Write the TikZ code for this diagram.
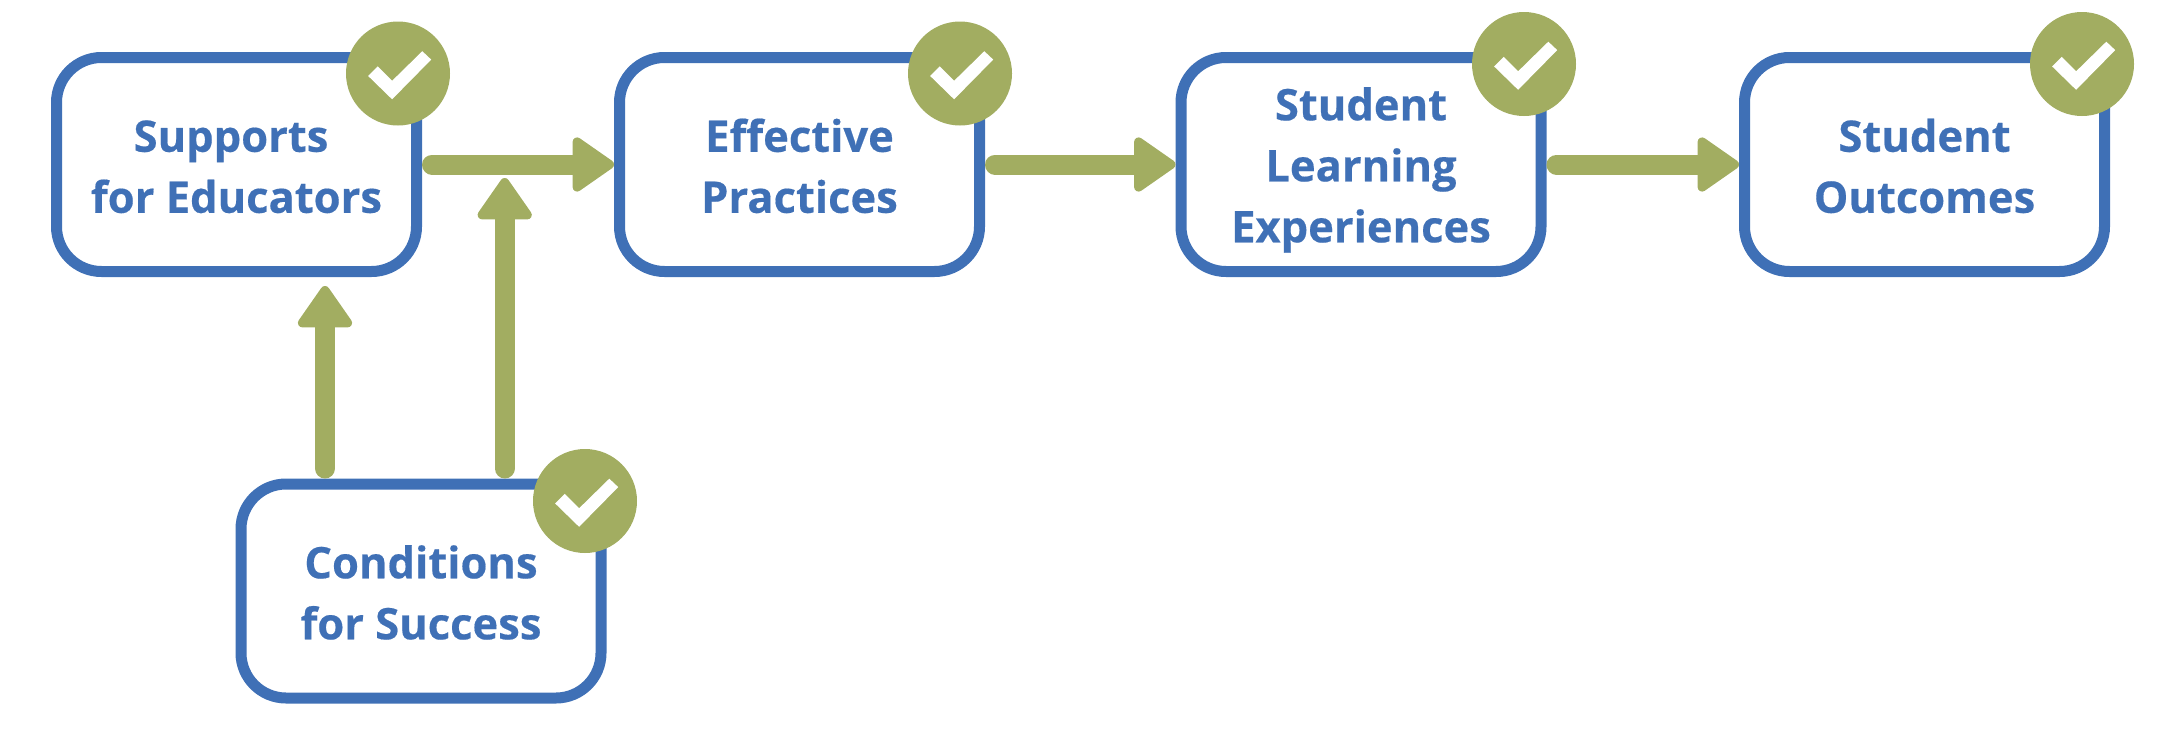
\documentclass[tikz,border=0pt]{standalone}
\usepackage{fontspec}
\setmainfont{Open Sans}
\usetikzlibrary{arrows.meta}
\definecolor{boxblue}{RGB}{63,112,182}
\definecolor{leaf}{RGB}{162,173,97}
\newcommand{\lowertext}[1]{\rule{0pt}{#1pt}}
\tikzset{
  stagebox/.style={draw=boxblue,line width=11pt,rounded corners=45pt,fill=white,
    minimum width=360pt,minimum height=214pt,inner sep=0pt,align=center,text=boxblue,
    font=\fontsize{43.5}{61}\selectfont\bfseries\addfontfeature{FakeBold=0.4}},
  badge/.style={circle,fill=leaf,minimum size=104pt,inner sep=0pt},
  flow/.style={draw=leaf,line width=20pt,line cap=round,
    -{Triangle[length=45pt,width=60pt,round,line width=9pt,fill=leaf,color=leaf]}},
  checkmark/.pic={\fill[white] (-29.8,2.5) -- (-20.3,-7.2) -- (-5.9,7.3) -- (24.3,-22.3) -- (33.2,-13.9) -- (-5.9,25.8) -- cycle;}
}
\begin{document}
\begin{tikzpicture}[x=1pt,y=-1pt]
\useasboundingbox (0,0) rectangle (2162,755);
\node[stagebox] (sup) at (236.5,164.5) {\lowertext{36}Supports\rule{11pt}{0pt}\\for Educators};
\node[stagebox] (eff) at (799.5,164.5) {\lowertext{36}Effective\\Practices};
\node[stagebox] (exp) at (1361,164.5) {\lowertext{44}Student\\Learning\\Experiences};
\node[stagebox] (out) at (1924.5,164.5) {\lowertext{36}Student\\Outcomes};
\node[stagebox] (con) at (421,591) {\lowertext{36}Conditions\\for Success};
\coordinate (j) at (504.7,178);
\coordinate (k) at (325,286);
\draw[flow,shorten <=10pt] (sup.east) -- (eff.west);
\draw[flow,shorten <=10pt] (eff.east) -- (exp.west);
\draw[flow,shorten <=10pt] (exp.east) -- (out.west);
\draw[flow,shorten <=10pt] (con.north -| k) -- (k);
\draw[flow,shorten <=10pt] (con.north -| j) -- (j);
\node[badge] (b1) at (398,73.5) {};
\node[badge] (b2) at (960,73.5) {};
\node[badge] (b3) at (1524,64) {};
\node[badge] (b4) at (2082,64) {};
\node[badge] (b5) at (585,501) {};
\foreach \b in {b1,b2,b3,b4,b5} \pic at (\b) {checkmark};
\end{tikzpicture}
\end{document}
